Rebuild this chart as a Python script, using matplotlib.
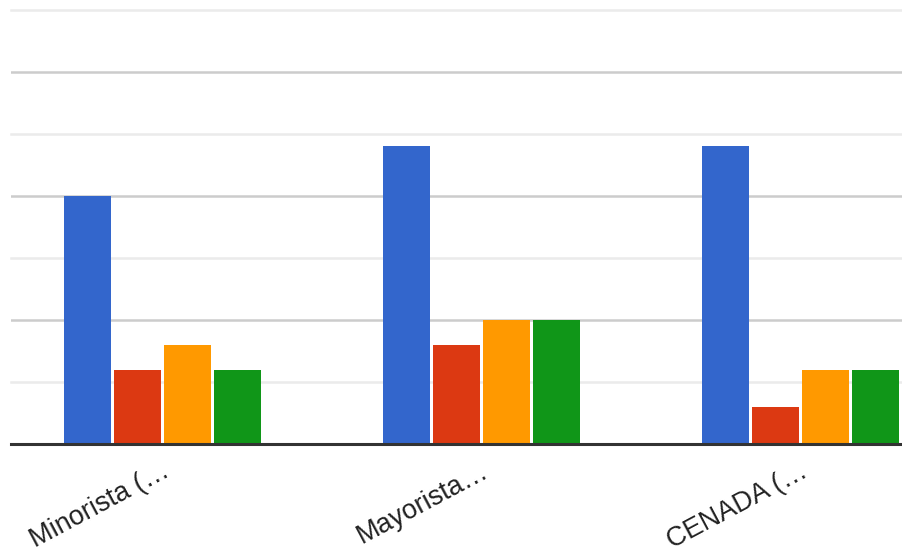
import numpy as np
import matplotlib.pyplot as plt

categories = ["Minorista (…", "Mayorista…", "CENADA (…"]
serie_a = [20, 24, 24]
serie_b = [6, 8, 3]
serie_c = [8, 10, 6]
serie_d = [6, 10, 6]
colores = ["#3366cc", "#dc3912", "#ff9900", "#109618"]

plt.rcParams['font.family'] = ['Liberation Sans', 'DejaVu Sans']

fig = plt.figure(figsize=(9.02, 5.56), dpi=100)
ax = fig.add_axes([11 / 902, 1 - 444 / 556, 891 / 902, 434 / 556])

x = np.arange(len(categories))
paso = 0.157
ancho = 0.148
series = [serie_a, serie_b, serie_c, serie_d]
for i, (vals, col) in enumerate(zip(series, colores)):
    ax.bar(x + (i - 1.5) * paso, vals, ancho, color=col, zorder=3)

# grid: dark lines every 10, light lines in between
for v in [10, 20, 30]:
    ax.axhline(v, color="#cccccc", lw=1.8, zorder=1)
for v in [5, 15, 25, 35]:
    ax.axhline(v, color="#ebebeb", lw=1.8, zorder=1, clip_on=False)
ax.axhline(0, color="#333333", lw=2.2, zorder=4, clip_on=False)

ax.set_ylim(0, 35)
ax.set_xlim(-0.475, 2.318)
ax.set_yticks([])
ax.set_xticks([])
for s in ax.spines.values():
    s.set_visible(False)

for xi, lab in zip(x, categories):
    ax.annotate(lab, xy=(xi, 0), xytext=(-1, -10), textcoords="offset points",
                rotation=28, ha="right", va="top", rotation_mode="anchor",
                fontsize=19.5, color="#222222")

fig.savefig("out.png", dpi=100)
